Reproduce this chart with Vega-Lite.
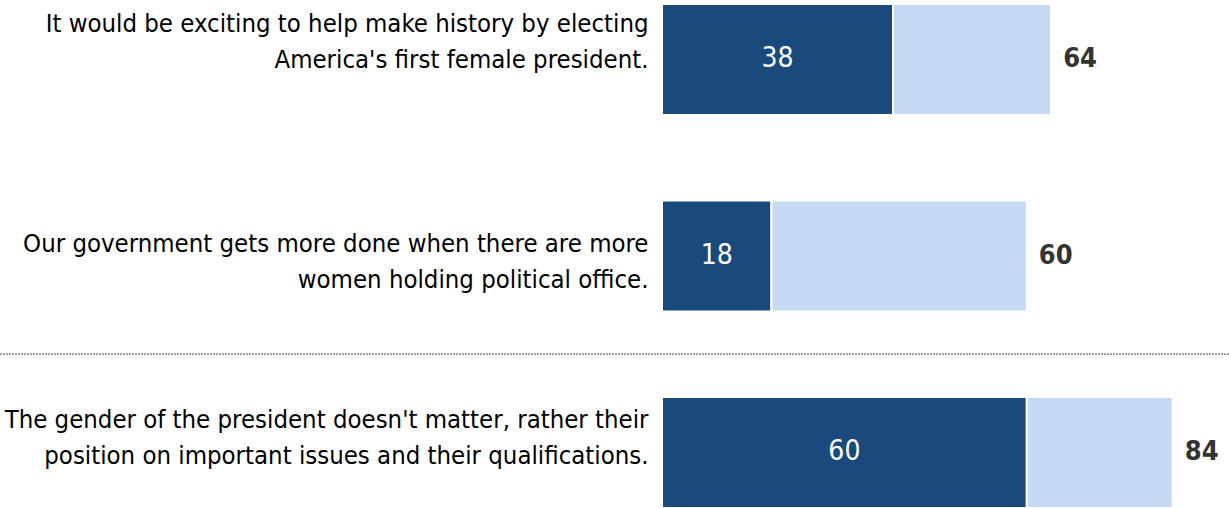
{
  "$schema": "https://vega.github.io/schema/vega-lite/v6.json",
  "width": 1229,
  "height": 508,
  "autosize": {"type": "none"},
  "padding": 0,
  "background": "white",
  "config": {"view": {"stroke": null}},
  "data": {
    "values": [
      {"question": "It would be exciting to help make history by electing|America's first female president.", "group": "strong", "value": 38},
      {"question": "It would be exciting to help make history by electing|America's first female president.", "group": "other", "value": 26},
      {"question": "Our government gets more done when there are more|women holding political office.", "group": "strong", "value": 18},
      {"question": "Our government gets more done when there are more|women holding political office.", "group": "other", "value": 42},
      {"question": "The gender of the president doesn't matter, rather their|position on important issues and their qualifications.", "group": "strong", "value": 60},
      {"question": "The gender of the president doesn't matter, rather their|position on important issues and their qualifications.", "group": "other", "value": 24}
    ]
  },
  "encoding": {
    "y": {
      "field": "question",
      "type": "nominal",
      "sort": null,
      "scale": {"paddingInner": 0.435, "paddingOuter": 0.01, "align": 1},
      "axis": {
        "title": null,
        "domain": false,
        "ticks": false,
        "grid": false,
        "labelExpr": "split(datum.value, '|')",
        "labelFont": "DejaVu Sans Condensed, Liberation Sans",
        "labelFontSize": 25.5,
        "labelLineHeight": 36,
        "labelColor": "#000000",
        "labelAlign": "right",
        "labelBaseline": "middle",
        "labelPadding": -648,
        "labelLimit": 0,
        "labelOffset": {"condition": [
          {"test": "indexof(datum.value, 'It would') === 0", "value": -35},
          {"test": "indexof(datum.value, 'The gender') === 0", "value": -32}
        ], "value": -12}
      }
    }
  },
  "layer": [
    {
      "mark": {"type": "bar", "stroke": "white", "strokeWidth": 2},
      "encoding": {
        "x": {
          "field": "value",
          "type": "quantitative",
          "stack": "zero",
          "scale": {"domain": [-108.88, 93.26], "nice": false, "zero": false},
          "axis": null
        },
        "color": {
          "field": "group",
          "type": "nominal",
          "scale": {"domain": ["strong", "other"], "range": ["#1a4a7c", "#c5daf2"]},
          "legend": null
        },
        "order": {"field": "group", "sort": "descending"}
      }
    },
    {
      "transform": [{"filter": "datum.group === 'strong'"}],
      "mark": {"type": "text", "color": "white", "font": "DejaVu Sans Condensed, Liberation Sans", "fontSize": 28, "align": "center", "baseline": "middle"},
      "encoding": {
        "x": {"field": "value", "type": "quantitative", "stack": "zero", "bandPosition": 0.5},
        "text": {"field": "value", "type": "quantitative"}
      }
    },
    {
      "transform": [{"aggregate": [{"op": "sum", "field": "value", "as": "total"}], "groupby": ["question"]}],
      "mark": {"type": "text", "color": "#333333", "font": "DejaVu Sans Condensed, Liberation Sans", "fontWeight": "bold", "fontSize": 27, "align": "center", "baseline": "middle", "dx": 29},
      "encoding": {
        "x": {"field": "total", "type": "quantitative"},
        "text": {"field": "total", "type": "quantitative"}
      }
    },
    {
      "transform": [{"filter": "datum.group === 'strong' && indexof(datum.question, 'The gender') === 0"}],
      "mark": {"type": "rule", "color": "#444444", "strokeDash": [2, 1], "strokeWidth": 1},
      "encoding": {
        "y": {"field": "question", "type": "nominal", "sort": null, "bandPosition": -0.386}
      }
    }
  ]
}
